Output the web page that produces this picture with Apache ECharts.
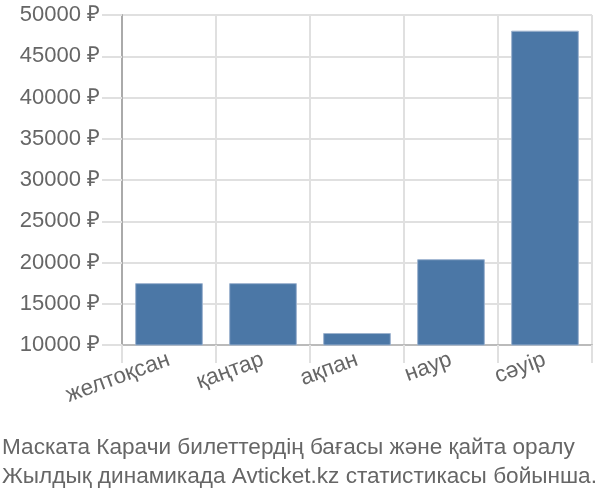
<!DOCTYPE html>
<html><head><meta charset="utf-8">
<script src="https://cdn.jsdelivr.net/npm/echarts@6/dist/echarts.min.js"></script>
<style>html,body{margin:0;padding:0;background:#fff}#c{width:600px;height:500px}</style>
</head><body><div id="c"></div>
<script>
const categories = ['желтоқсан', 'қаңтар', 'ақпан', 'наур', 'сәуір'];
const prices = [17500, 17500, 11450, 20400, 48100];
const titleLines = ['Маската Карачи билеттердің бағасы және қайта оралу', 'Жылдық динамикада Avticket.kz статистикасы бойынша.'];

const chart = echarts.init(document.getElementById('c'));
const font = 'Liberation Sans, Arial, sans-serif';
chart.setOption({
  animation: false,
  title: {
    text: titleLines.join('\n'),
    left: 2, top: 433, padding: 0,
    textStyle: { fontFamily: font, fontSize: 22.6, fontWeight: 'normal', color: '#666', lineHeight: 29 }
  },
  grid: { left: 122, right: 8, top: 15, bottom: 155, containLabel: false },
  xAxis: {
    type: 'category', data: categories,
    axisLine: { lineStyle: { color: '#bbb', width: 2 } },
    axisTick: { show: true, length: 18, lineStyle: { color: '#e0e0e0', width: 2 } },
    splitLine: { show: true, lineStyle: { color: '#e0e0e0', width: 2 } },
    axisLabel: { rotate: 20, margin: 14, fontFamily: font, fontSize: 22.5, color: '#666' }
  },
  yAxis: {
    type: 'value', min: 10000, max: 50000, interval: 5000,
    axisLine: { show: true, lineStyle: { color: '#aaa', width: 2 } },
    axisTick: { show: true, length: 20, lineStyle: { color: '#e0e0e0', width: 2 } },
    splitLine: { show: true, lineStyle: { color: '#e0e0e0', width: 2 } },
    axisLabel: { margin: 22, fontFamily: font, fontSize: 22, color: '#666', formatter: v => v + ' ₽' }
  },
  series: [{
    type: 'bar', data: prices, barWidth: '72%',
    itemStyle: { color: '#4b77a6', borderColor: '#9db3cf', borderWidth: 1 }
  }]
});
</script></body></html>
